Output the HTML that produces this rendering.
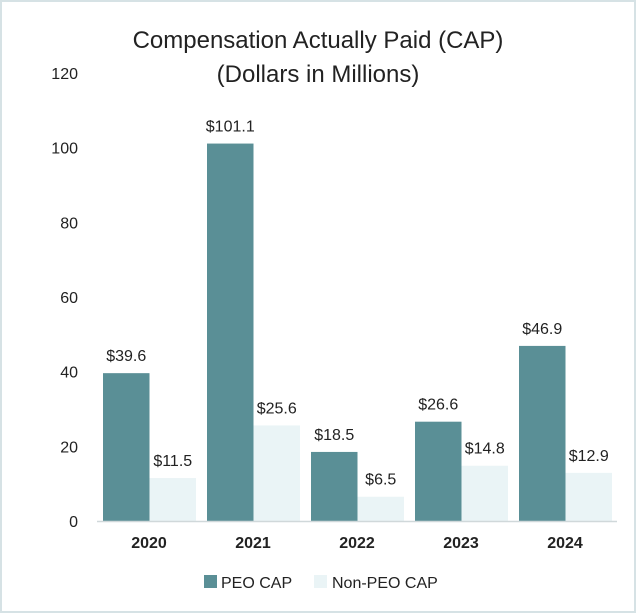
<!DOCTYPE html>
<html><head><meta charset="utf-8"><style>
html,body{margin:0;padding:0;background:#fff;}
svg{display:block;font-family:"Liberation Sans",Arial,sans-serif;}
</style></head><body>
<svg id="chart" width="636" height="613" viewBox="0 0 636 613">
<rect x="1" y="1" width="634" height="611" fill="#fff" stroke="#d6e2e5" stroke-width="2"/>
<text x="318" y="48" text-anchor="middle" font-size="24" fill="#222">Compensation Actually Paid (CAP)</text>
<text x="318" y="82" text-anchor="middle" font-size="24" fill="#222">(Dollars in Millions)</text>
<g id="yaxis"></g><g id="bars"></g><g id="xaxis"></g>
<line x1="97" y1="521.5" x2="617" y2="521.5" stroke="#d0d8da" stroke-width="1.5"/>
<g>
<rect x="204" y="575" width="13" height="13" fill="#5a8f96"/>
<text x="221" y="588" font-size="16" fill="#222">PEO CAP</text>
<rect x="314" y="575" width="13" height="13" fill="#eaf4f6"/>
<text x="332" y="588" font-size="16" fill="#222">Non-PEO CAP</text>
</g>
</svg>
<script>
const categories=["2020","2021","2022","2023","2024"];
const peoValues=[39.6,101.1,18.5,26.6,46.9];
const nonPeoValues=[11.5,25.6,6.5,14.8,12.9];
const yTicks=[0,20,40,60,80,100,120];
const NS="http://www.w3.org/2000/svg";
const x0=97,step=104,y0=521,pxPerUnit=448/120,bw=46.5,inset=6;
const y=v=>y0-v*pxPerUnit;
function mk(tag,attrs,parent){const e=document.createElementNS(NS,tag);for(const k in attrs)e.setAttribute(k,attrs[k]);parent.appendChild(e);return e;}
const ya=document.getElementById('yaxis'),bars=document.getElementById('bars'),xa=document.getElementById('xaxis');
yTicks.forEach(t=>{const e=mk('text',{x:78,y:y(t)+6,'text-anchor':'end','font-size':16,fill:'#222'},ya);e.textContent=t;

});
categories.forEach((c,i)=>{
 const gx=x0+i*step+inset;
 [[peoValues[i],'#5a8f96','peo'],[nonPeoValues[i],'#eaf4f6','nonpeo']].forEach((s,j)=>{
  const bx=gx+j*bw;
  const r=mk('rect',{x:bx,y:y(s[0]),width:bw,height:s[0]*pxPerUnit,fill:s[1]},bars);
  
  
  const l=mk('text',{x:bx+bw/2,y:y(s[0])-12,'text-anchor':'middle','font-size':16,fill:'#222'},bars);
  l.textContent='$'+s[0].toFixed(1);
  
  
 });
 const t=mk('text',{x:x0+i*step+step/2,y:548,'text-anchor':'middle','font-size':16,'font-weight':'bold',fill:'#222'},xa);
 t.textContent=c;
 
 
});
</script>
</body></html>
